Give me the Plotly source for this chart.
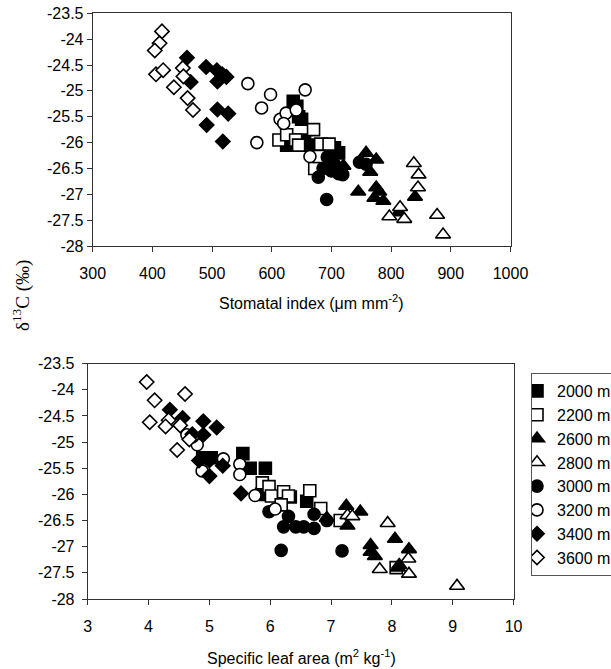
import plotly.graph_objects as go

# Altitude series: labels, marker symbols and fill styles
altitudes = ["2000 m", "2200 m", "2600 m", "2800 m", "3000 m", "3200 m", "3400 m", "3600 m"]
symbols = ["square", "square", "triangle-up", "triangle-up", "circle", "circle", "diamond", "diamond"]
filled = [True, False, True, False, True, False, True, False]
sizes = [12, 12, 13, 13, 12, 12, 11, 11]

# Stomatal index (um mm-2) per altitude
si_2000 = [636, 642, 645, 650, 625, 632, 655, 662, 705, 712]
si_2200 = [612, 625, 640, 645, 670, 682, 696, 672, 680]
si_2600 = [758, 775, 765, 720, 745, 775, 780, 772, 787, 813, 840]
si_2800 = [838, 846, 845, 815, 822, 797, 877, 887]
si_3000 = [678, 692, 705, 712, 719, 693, 700, 686, 747, 758]
si_3200 = [560, 598, 583, 656, 614, 624, 641, 620, 575, 664]
si_3400 = [458, 464, 490, 508, 517, 524, 509, 509, 527, 491, 518]
si_3600 = [416, 412, 404, 406, 418, 436, 451, 452, 459, 468]

# delta 13C paired with stomatal index
d13_si_2000 = [-25.2, -25.3, -25.5, -25.55, -26.05, -25.95, -25.95, -26.05, -26.1, -26.2]
d13_si_2200 = [-25.95, -25.85, -25.95, -26.05, -25.75, -26.03, -26.03, -26.5, -26.27]
d13_si_2600 = [-26.2, -26.33, -26.57, -26.45, -26.95, -26.87, -26.95, -27.07, -27.13, -27.35, -27.05]
d13_si_2800 = [-26.4, -26.62, -26.87, -27.25, -27.48, -27.43, -27.4, -27.78]
d13_si_3000 = [-26.67, -27.1, -26.42, -26.6, -26.62, -26.28, -26.55, -26.5, -26.38, -26.42]
d13_si_3200 = [-24.86, -25.07, -25.33, -24.98, -25.55, -25.43, -25.37, -25.63, -26.0, -26.27]
d13_si_3400 = [-24.36, -24.83, -24.54, -24.6, -24.68, -24.73, -24.82, -25.36, -25.44, -25.66, -25.98]
d13_si_3600 = [-23.85, -24.08, -24.22, -24.68, -24.6, -24.93, -24.56, -24.72, -25.14, -25.37]

# Specific leaf area (m2 kg-1) per altitude
sla_2000 = [4.89, 5.03, 5.55, 5.67, 5.92, 5.86, 6.33, 6.6]
sla_2200 = [5.87, 5.98, 6.02, 6.22, 6.3, 6.65, 6.83, 7.15, 6.18, 8.07]
sla_2600 = [7.25, 7.48, 7.27, 6.93, 7.65, 7.65, 7.72, 8.05, 8.12, 8.28, 8.1]
sla_2800 = [7.93, 7.8, 8.27, 8.28, 9.07, 7.27, 7.35]
sla_3000 = [5.98, 6.3, 6.22, 6.42, 6.55, 6.72, 6.72, 6.93, 6.18, 7.18]
sla_3200 = [4.63, 4.8, 4.88, 5.23, 5.5, 5.5, 5.75, 6.08, 4.72]
sla_3400 = [4.35, 4.56, 4.9, 5.12, 4.72, 4.9, 4.83, 5.22, 5.0, 5.52, 5.0]
sla_3600 = [3.97, 4.1, 4.6, 4.02, 4.33, 4.28, 4.52, 4.47, 4.67]

# delta 13C paired with specific leaf area
d13_sla_2000 = [-25.3, -25.3, -25.22, -25.5, -25.5, -26.0, -26.05, -26.13]
d13_sla_2200 = [-25.78, -25.85, -26.03, -25.95, -26.03, -25.93, -26.27, -26.5, -26.2, -27.4]
d13_sla_2600 = [-26.22, -26.33, -26.6, -26.45, -26.97, -27.1, -27.18, -26.85, -27.35, -27.05, -27.4]
d13_sla_2800 = [-26.55, -27.43, -27.23, -27.52, -27.75, -26.4, -26.42]
d13_sla_3000 = [-26.33, -26.42, -26.62, -26.62, -26.62, -26.65, -26.38, -26.5, -27.07, -27.08]
d13_sla_3200 = [-24.86, -25.05, -25.55, -25.32, -25.42, -25.62, -26.02, -26.28, -24.9]
d13_sla_3400 = [-24.38, -24.54, -24.6, -24.72, -24.85, -24.86, -25.35, -25.45, -25.65, -25.98, -25.35]
d13_sla_3600 = [-23.85, -24.2, -24.08, -24.62, -24.58, -24.7, -24.68, -25.15, -24.95]

# Axis ticks
d13_ticks = [-23.5, -24, -24.5, -25, -25.5, -26, -26.5, -27, -27.5, -28]
d13_ticktext = ["-23.5", "-24", "-24.5", "-25", "-25.5", "-26", "-26.5", "-27", "-27.5", "-28"]
si_ticks = [300, 400, 500, 600, 700, 800, 900, 1000]
sla_ticks = [3, 4, 5, 6, 7, 8, 9, 10]

si_x = [si_2000, si_2200, si_2600, si_2800, si_3000, si_3200, si_3400, si_3600]
si_y = [d13_si_2000, d13_si_2200, d13_si_2600, d13_si_2800, d13_si_3000, d13_si_3200, d13_si_3400, d13_si_3600]
sla_x = [sla_2000, sla_2200, sla_2600, sla_2800, sla_3000, sla_3200, sla_3400, sla_3600]
sla_y = [d13_sla_2000, d13_sla_2200, d13_sla_2600, d13_sla_2800, d13_sla_3000, d13_sla_3200, d13_sla_3400, d13_sla_3600]

W, H = 611, 669
FONT = "Liberation Sans, Arial, sans-serif"

fig = go.Figure()


def marker_style(i):
    return dict(
        symbol=symbols[i],
        size=sizes[i],
        color="black" if filled[i] else "white",
        line=dict(color="black", width=1.6),
    )


for i, name in enumerate(altitudes):
    fig.add_trace(go.Scatter(
        x=si_x[i], y=si_y[i], mode="markers", name=name,
        legendgroup=name, showlegend=False,
        marker=marker_style(i), cliponaxis=False,
        xaxis="x", yaxis="y",
    ))
for i, name in enumerate(altitudes):
    fig.add_trace(go.Scatter(
        x=sla_x[i], y=sla_y[i], mode="markers", name=name,
        legendgroup=name, showlegend=True,
        marker=marker_style(i), cliponaxis=False,
        xaxis="x2", yaxis="y2",
    ))

axis_common = dict(
    showgrid=False, zeroline=False, showline=True, mirror=True,
    linecolor="#333333", linewidth=1, ticks="outside", ticklen=5,
    tickcolor="#333333", tickfont=dict(family=FONT, size=16, color="black"),
)

fig.update_layout(
    width=W, height=H,
    margin=dict(l=0, r=0, t=0, b=0, autoexpand=False),
    paper_bgcolor="white", plot_bgcolor="white",
    font=dict(family=FONT, size=16, color="black"),
    xaxis=dict(domain=[92.7 / W, 510.5 / W], range=[300, 1000], tickvals=si_ticks,
               anchor="y", ticklabelstandoff=8, **axis_common),
    yaxis=dict(domain=[1 - 246 / H, 1 - 13.3 / H], range=[-28, -23.5],
               tickvals=d13_ticks, ticktext=d13_ticktext, anchor="x", **axis_common),
    xaxis2=dict(domain=[87.7 / W, 513.6 / W], range=[3, 10], tickvals=sla_ticks,
                anchor="y2", ticklabelstandoff=8, **axis_common),
    yaxis2=dict(domain=[1 - 599 / H, 1 - 363.7 / H], range=[-28, -23.5],
                tickvals=d13_ticks, ticktext=d13_ticktext, anchor="x2",
                ticklabelstandoff=4, **axis_common),
    legend=dict(
        x=531 / W, y=1 - 373 / H, xanchor="left", yanchor="top",
        bgcolor="white", bordercolor="#555555", borderwidth=1,
        font=dict(family=FONT, size=16, color="black"),
        tracegroupgap=0, indentation=-15,
    ),
    annotations=[
        dict(text="Stomatal index (\u03bcm mm<sup>-2</sup>)", x=311 / W, y=1 - 301.7 / H,
             xref="paper", yref="paper", showarrow=False, xanchor="center", yanchor="middle",
             font=dict(family=FONT, size=16, color="black")),
        dict(text="Specific leaf area (m<sup>2</sup> kg<sup>-1</sup>)", x=301 / W, y=1 - 657 / H,
             xref="paper", yref="paper", showarrow=False, xanchor="center", yanchor="middle",
             font=dict(family=FONT, size=16, color="black")),
        dict(text="\u03b4<sup>13</sup>C (\u2030)", x=21 / W, y=1 - 296 / H, textangle=-90,
             xref="paper", yref="paper", showarrow=False, xanchor="center", yanchor="middle",
             font=dict(family="Liberation Serif, Times New Roman, serif", size=19, color="black")),
    ],
)

fig.write_html("out.html")
